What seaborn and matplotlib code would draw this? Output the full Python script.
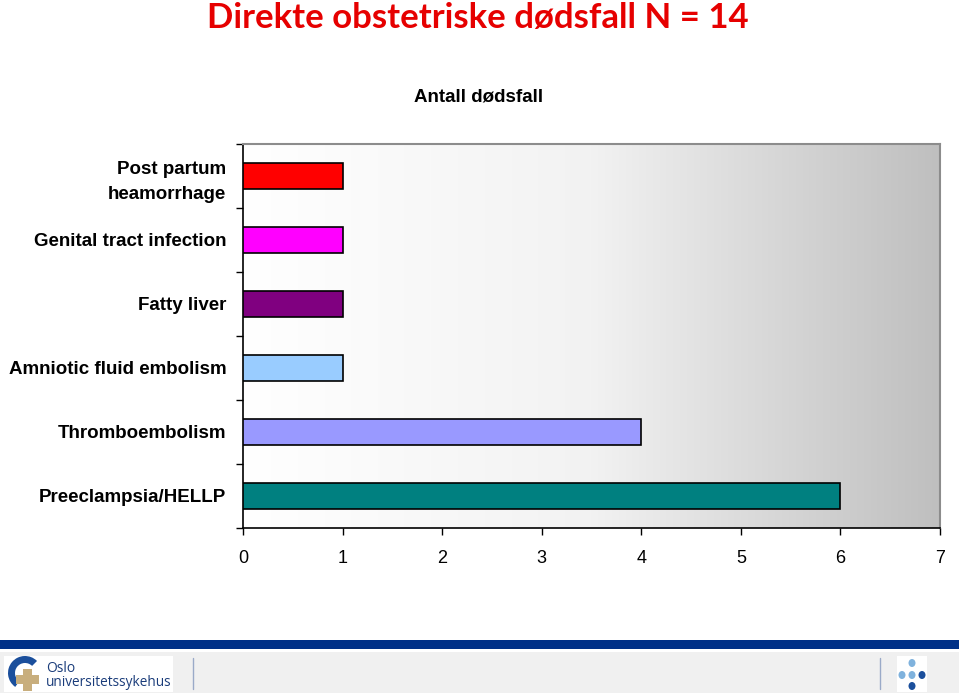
import numpy as np
import pandas as pd
import matplotlib
matplotlib.use("Agg")
import matplotlib.pyplot as plt
import seaborn as sns
from matplotlib.patches import Rectangle, Wedge, Ellipse

categories = ["Post partum\nheamorrhage", "Genital tract infection", "Fatty liver",
              "Amniotic fluid embolism", "Thromboembolism", "Preeclampsia/HELLP"]
values = [1, 1, 1, 1, 4, 6]
bar_colors = ["#ff0000", "#ff00ff", "#800080", "#99ccff", "#9999ff", "#008080"]
x_ticks = [0, 1, 2, 3, 4, 5, 6, 7]
title = "Direkte obstetriske dødsfall N = 14"
subtitle = "Antall dødsfall"

sns.set_theme(style="white")
plt.rcParams["font.family"] = ["Liberation Sans", "DejaVu Sans"]

W, H = 959, 696
fig = plt.figure(figsize=(W / 100, H / 100), dpi=100)
fig.patch.set_facecolor("white")

ax = fig.add_axes([243 / W, 1 - 528 / H, (940 - 243) / W, (528 - 144) / H])

df = pd.DataFrame({"cat": categories, "val": values})
sns.barplot(data=df, y="cat", x="val", hue="cat", palette=bar_colors, orient="h",
            width=0.42, edgecolor="black", linewidth=1.2, legend=False, ax=ax, zorder=3,
            saturation=1)

# gradient background
grad = np.linspace(0, 1, 256).reshape(1, -1)
cmap = matplotlib.colors.LinearSegmentedColormap.from_list("g", ["#ffffff", "#f2f2f2", "#bfbfbf"])
ax.imshow(grad, extent=[0, 7, 5.5, -0.5], aspect="auto", cmap=cmap, zorder=0)

ax.set_xlim(0, 7)
ax.set_ylim(5.5, -0.5)
ax.set_xlabel("")
ax.set_ylabel("")

ax.set_xticks(x_ticks)
ax.set_xticklabels([str(t) for t in x_ticks], fontsize=13, color="black")
ax.tick_params(axis="x", direction="out", length=5, width=1, color="black", pad=11, bottom=True,
               labelcolor="black")

ax.set_yticks(np.arange(-0.5, 6.0, 1.0))
ax.set_yticklabels([])
ax.set_yticks(np.arange(len(categories)), minor=True)
ax.set_yticklabels(categories, minor=True, fontsize=13.5, fontweight="bold", color="black")
ax.tick_params(axis="y", which="major", direction="out", length=5, width=1, color="black", left=True)
ax.tick_params(axis="y", which="minor", length=0, pad=12, left=False, labelcolor="black")
for lab in ax.get_yticklabels(minor=True):
    lab.set_horizontalalignment("right")
    lab.set_linespacing(1.6)

for s in ["left", "bottom"]:
    ax.spines[s].set_color("black")
    ax.spines[s].set_linewidth(1.2)
for s in ["top", "right"]:
    ax.spines[s].set_color("#8c8c8c")
    ax.spines[s].set_linewidth(1.5)
ax.grid(False)

# titles
fig.text(478 / W, 1 - 18 / H, title, ha="center", va="center", color="#e60000",
         fontsize=25, fontweight="bold", family=["Lato", "DejaVu Sans"])
fig.text(479 / W, 1 - 97 / H, subtitle, ha="center", va="center", color="black",
         fontsize=13.5, fontweight="bold", family=["Liberation Sans Narrow", "Liberation Sans"])

# footer
fig.patches.append(Rectangle((0, 1 - 649 / H), 1, 9 / H, transform=fig.transFigure,
                             facecolor="#003087", edgecolor="none"))
fig.patches.append(Rectangle((0, 1 - 693 / H), 1, 41 / H, transform=fig.transFigure,
                             facecolor="#f0f0f0", edgecolor="none"))
fig.patches.append(Rectangle((4 / W, 1 - 692 / H), 169 / W, 36 / H, transform=fig.transFigure,
                             facecolor="white", edgecolor="none"))
fig.patches.append(Rectangle((897 / W, 1 - 692 / H), 30 / W, 36 / H, transform=fig.transFigure,
                             facecolor="white", edgecolor="none"))
for xl in (193, 880):
    fig.lines.append(plt.Line2D([xl / W, xl / W], [1 - 689 / H, 1 - 658 / H],
                                transform=fig.transFigure, color="#9aaac8", lw=1))
fig.text(46 / W, 1 - 669 / H, "Oslo", ha="left", va="center", color="#1a3c7a", fontsize=10,
         family=["Open Sans", "DejaVu Sans"])
fig.text(46 / W, 1 - 683 / H, "universitetssykehus", ha="left", va="center", color="#1a3c7a",
         fontsize=9.8, family=["Open Sans", "DejaVu Sans"])
# simple logo marks
lax = fig.add_axes([5 / W, 1 - 693 / H, 40 / W, 38 / H], zorder=5)
lax.set_xlim(0, 40)
lax.set_ylim(0, 38)
lax.axis("off")
lax.patch.set_alpha(0)
lax.add_patch(Wedge((20, 20), 17, 45, 235, width=7, facecolor="#1b4f9c", edgecolor="none"))
lax.add_patch(Rectangle((18, 2), 9, 22, facecolor="#c8ae7d", edgecolor="none"))
lax.add_patch(Rectangle((11, 9), 23, 9, facecolor="#c8ae7d", edgecolor="none"))
dots = [(912, 663, "#7fb2dd"), (902, 675, "#7fb2dd"), (912, 675, "#7fb2dd"),
        (922, 675, "#1b4f9c"), (912, 686, "#1b4f9c")]
for dx, dy, c in dots:
    fig.patches.append(Ellipse((dx / W, 1 - dy / H), 7 / W, 8 / H,
                               transform=fig.transFigure, facecolor=c, edgecolor="none"))

fig.savefig("out.png", dpi=100)
